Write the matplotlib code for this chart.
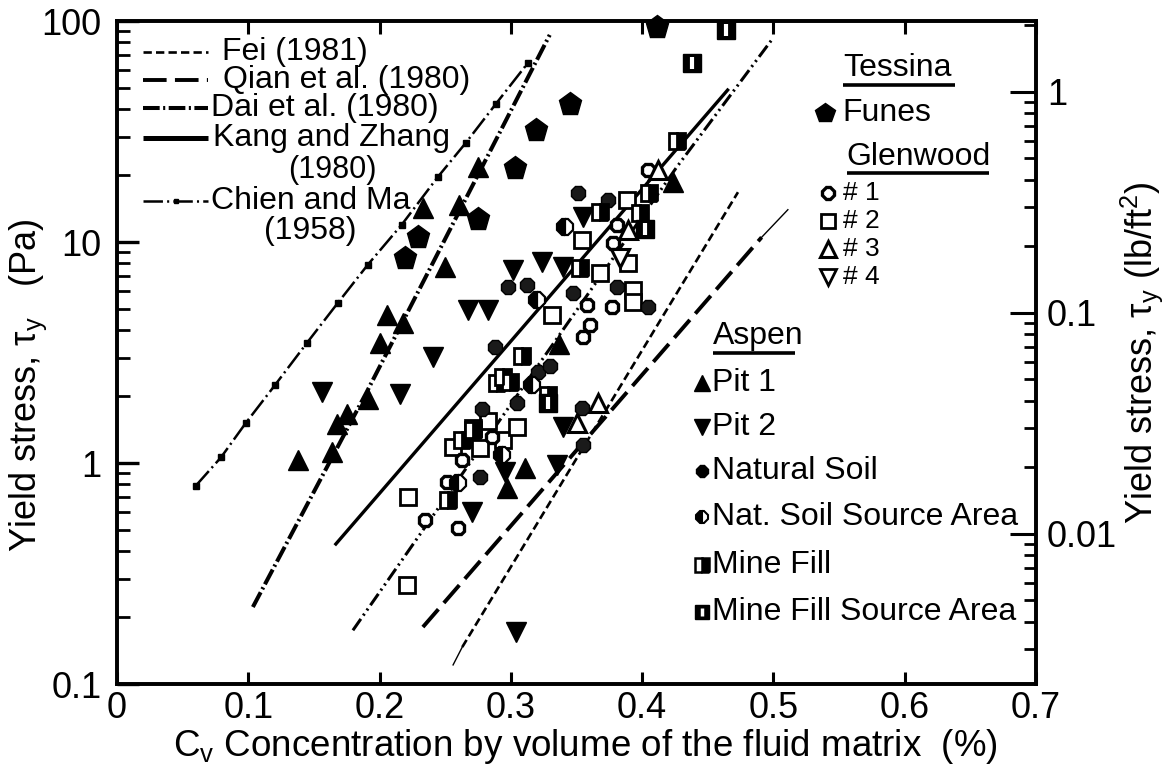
import matplotlib
matplotlib.use("Agg")
import matplotlib.pyplot as plt

plt.rcParams["font.family"] = ["Liberation Sans", "DejaVu Sans"]
plt.rcParams["mathtext.fontset"] = "custom"
plt.rcParams["mathtext.rm"] = "Liberation Sans"
plt.rcParams["mathtext.it"] = "Liberation Sans:italic"
plt.rcParams["mathtext.sf"] = "Liberation Sans"
plt.rcParams["lines.scale_dashes"] = False

PA_TO_PSF = 0.0208854  # 1 Pa in lb/ft^2

# ---- empirical relations: Cv (fraction) vs yield stress (Pa) ----
fei_cv = [0.256, 0.263, 0.473]
fei_tau = [0.122, 0.147, 16.8]

qian_cv = [0.233, 0.491, 0.511]
qian_tau = [0.181, 10.5, 14.0]

dai1_cv = [0.1035, 0.1903, 0.3296]
dai1_tau = [0.223, 2.1, 86.5]

dai2_cv = [0.1797, 0.4263, 0.4986]
dai2_tau = [0.175, 21.8, 82.0]

kang_cv = [0.1667, 0.4651]
kang_tau = [0.43, 48.7]

chien_cv = [0.0601, 0.0792, 0.0982, 0.1203, 0.1446, 0.1682, 0.1911, 0.2170,
            0.2444, 0.2657, 0.2885, 0.3129]
chien_tau = [0.79, 1.06, 1.52, 2.25, 3.49, 5.3, 7.9, 12.0, 19.7, 28.1, 42.1, 64.5]

# ---- measured samples ----
funes_cv = [0.2192, 0.2291, 0.2748, 0.3030, 0.3190, 0.3449, 0.4111]
funes_tau = [8.5, 10.5, 12.7, 21.6, 32.1, 42.1, 94.0]

glen1_cv = [0.2345, 0.2596, 0.2512, 0.2626, 0.2854, 0.360, 0.3547, 0.3767,
            0.3577, 0.3775, 0.4041, 0.3805]
glen1_tau = [0.552, 0.508, 0.82, 1.03, 1.31, 4.21, 3.72, 5.08, 5.19, 9.9, 21.2, 11.9]

glen2_cv = [0.2215, 0.2207, 0.2763, 0.2823, 0.2937, 0.3044, 0.331, 0.3539,
            0.3881, 0.3927, 0.3927, 0.3889, 0.3676, 0.2557, 0.2709]
glen2_tau = [0.70, 0.28, 1.17, 1.55, 1.27, 1.46, 4.68, 10.2, 15.5, 6.07, 5.36,
             8.03, 7.24, 1.18, 1.44]

glen3_cv = [0.3502, 0.3662, 0.4118, 0.389]
glen3_tau = [1.52, 1.87, 21.2, 11.3]

glen4_cv = [0.3829]
glen4_tau = [8.5]

pit1_cv = [0.1378, 0.1637, 0.1675, 0.1751, 0.1911, 0.2002, 0.2055, 0.2177,
           0.2329, 0.2497, 0.2604, 0.2748, 0.3365, 0.4233, 0.3106, 0.2969]
pit1_tau = [1.03, 1.12, 1.50, 1.67, 1.95, 3.49, 4.68, 4.30, 14.3, 7.7, 14.7,
            21.8, 3.45, 18.7, 0.95, 0.77]

pit2_cv = [0.1561, 0.2154, 0.2406, 0.2672, 0.2824, 0.3015, 0.3235, 0.3395,
           0.3547, 0.2702, 0.2954, 0.3395, 0.3350, 0.3037]
pit2_tau = [2.09, 2.05, 3.02, 4.92, 4.92, 7.46, 8.13, 7.7, 13.0, 0.60, 0.91,
            1.46, 0.98, 0.172]

nat_cv = [0.2763, 0.2778, 0.3044, 0.2877, 0.2976, 0.312, 0.3508, 0.347,
          0.3204, 0.3295, 0.3547, 0.3539, 0.3737, 0.3805, 0.4041]
nat_tau = [0.865, 1.75, 1.87, 3.35, 6.25, 6.38, 16.7, 5.88, 2.58, 2.75, 1.21,
           1.77, 15.5, 6.25, 5.08]

natsrc_cv = [0.2596, 0.293, 0.3197, 0.3409, 0.3159]
natsrc_tau = [0.81, 1.09, 5.47, 11.7, 2.25]

mine_cv = [0.2519, 0.2626, 0.2892, 0.2991, 0.3082, 0.328, 0.3524, 0.3676,
           0.398, 0.4056, 0.4262, 0.2937, 0.2709]
mine_tau = [0.68, 1.27, 2.30, 2.33, 3.05, 2.03, 7.62, 13.7, 13.5, 16.7, 28.6,
            2.45, 1.41]

minesrc_cv = [0.4383, 0.4642, 0.328, 0.4018]
minesrc_tau = [64.5, 91.0, 1.87, 11.5]

x_ticks = [0, 0.1, 0.2, 0.3, 0.4, 0.5, 0.6, 0.7]
x_ticklabels = ["0", "0.1", "0.2", "0.3", "0.4", "0.5", "0.6", "0.7"]
y_ticks = [0.1, 1, 10, 100]
y_ticklabels = ["0.1", "1", "10", "100"]
y2_ticks = [0.01, 0.1, 1]
y2_ticklabels = ["0.01", "0.1", "1"]

legend_lines = ["Fei (1981)", "Qian et al. (1980)", "Dai et al. (1980)",
                "Kang and Zhang", "Chien and Ma"]

# ---- figure ----
fig = plt.figure(figsize=(11.73, 7.71), dpi=100)
ax = fig.add_axes([0.09974, 0.11284, 0.78346, 0.85992])
ax.set_xscale("linear")
ax.set_yscale("log")
ax.set_xlim(0, 0.7)
ax.set_ylim(0.1, 100)

K = "black"
# line styles
sty_fei = dict(color=K, lw=1.9, dashes=(6, 3))
sty_qian = dict(color=K, lw=2.8, dashes=(17, 6))
sty_dai1 = dict(color=K, lw=2.9, dashes=(12, 2.5, 1.5, 2.5))
sty_dai2 = dict(color=K, lw=2.2, dashes=(10, 3, 1.5, 3, 1.5, 3))
sty_kang = dict(color=K, lw=2.4, linestyle="-")
sty_chien = dict(color=K, lw=1.8, dashes=(14, 3, 1.5, 3))

ax.plot(fei_cv[:2], fei_tau[:2], color=K, lw=1.0)
ax.plot(fei_cv[1:], fei_tau[1:], **sty_fei)
ax.plot(qian_cv[:2], qian_tau[:2], **sty_qian)
ax.plot(qian_cv[1:], qian_tau[1:], color=K, lw=1.0)
ax.plot(dai1_cv, dai1_tau, **sty_dai1)
ax.plot(dai2_cv, dai2_tau, **sty_dai2)
ax.plot(kang_cv, kang_tau, **sty_kang)
ax.plot(chien_cv, chien_tau, **sty_chien)
ax.plot(chien_cv, chien_tau, ls="none", marker="s", ms=5, color=K)

# sample markers
ax.plot(funes_cv, funes_tau, ls="none", marker="p", ms=17, color=K, clip_on=False, zorder=4)
ax.plot(pit1_cv, pit1_tau, ls="none", marker="^", ms=14, color=K, zorder=4)
ax.plot(pit2_cv, pit2_tau, ls="none", marker="v", ms=14, color=K, zorder=4)
ax.plot(glen2_cv, glen2_tau, ls="none", marker="s", ms=12, mfc="white", mec=K, mew=2.0, zorder=4)
ax.plot(glen1_cv, glen1_tau, ls="none", marker="8", ms=10, mfc="white", mec=K, mew=2.4, zorder=5)
ax.plot(glen3_cv, glen3_tau, ls="none", marker="^", ms=13, mfc="white", mec=K, mew=2.2, zorder=5)
ax.plot(glen4_cv, glen4_tau, ls="none", marker="v", ms=13, mfc="white", mec=K, mew=2.2, zorder=5)
ax.plot(nat_cv, nat_tau, ls="none", marker="8", ms=11, color="#1a1a1a", mec=K, zorder=5)
ax.plot(natsrc_cv, natsrc_tau, ls="none", marker="8", ms=11, fillstyle="left",
        color=K, markerfacecoloralt="white", mec=K, mew=1.6, zorder=5)
ax.plot(mine_cv, mine_tau, ls="none", marker="s", ms=12, fillstyle="right",
        color=K, markerfacecoloralt="white", mec=K, mew=2.0, zorder=5)
ax.plot(minesrc_cv, minesrc_tau, ls="none", marker="s", ms=13, color=K, clip_on=False, zorder=5)
ax.plot(minesrc_cv, minesrc_tau, ls="none", marker="|", ms=8, mew=3, color="white",
        clip_on=False, zorder=6)

# ---- axes styling ----
for s in ax.spines.values():
    s.set_linewidth(2.6)
ax.set_xticks(x_ticks)
ax.set_xticklabels(x_ticklabels)
ax.set_yticks(y_ticks)
ax.set_yticklabels(y_ticklabels)
ax.tick_params(axis="x", which="major", direction="in", length=9, width=2.2,
               top=True, bottom=True, labelsize=26, pad=5)
ax.tick_params(axis="x", which="minor", bottom=False, top=False)
ax.tick_params(axis="y", which="major", direction="in", length=16, width=2.4,
               left=True, right=False, labelsize=26, pad=11)
ax.tick_params(axis="y", which="minor", direction="in", length=9, width=2.0,
               left=True, right=False, labelleft=False)

ax2 = ax.twinx()
ax2.set_yscale("log")
ax2.set_ylim(0.1 * PA_TO_PSF, 100 * PA_TO_PSF)
ax2.set_yticks(y2_ticks)
ax2.set_yticklabels(y2_ticklabels)
ax2.tick_params(axis="y", which="major", direction="in", length=19, width=2.2,
                labelsize=26, pad=8)
ax2.tick_params(axis="y", which="minor", direction="in", length=9, width=2.0,
                labelright=False)
for s in ax2.spines.values():
    s.set_linewidth(2.6)

# axis titles
ax.text(0.51, -0.094, r"C$_\mathrm{v}$ Concentration by volume of the fluid matrix  (%)",
        transform=ax.transAxes, ha="center", va="center", fontsize=26.5)
ax.text(-0.097, 0.45, r"Yield stress, $\mathrm{\tau}_\mathrm{y}$   (Pa)",
        transform=ax.transAxes, ha="center", va="center", rotation=90, fontsize=26)
ax.text(1.115, 0.50, r"Yield stress, $\mathrm{\tau}_\mathrm{y}$ (lb/ft$^\mathrm{2}$)",
        transform=ax.transAxes, ha="center", va="center", rotation=90, fontsize=26)

T = ax.transAxes
# ---- key for relations (upper left) ----
rows = [0.953, 0.911, 0.869, 0.824, 0.7285]
text_x = [0.114, 0.115, 0.102, 0.1045, 0.102]
styles = [sty_fei, sty_qian, sty_dai1, dict(color=K, lw=3.6), sty_chien]
for lab, yy, tx, st in zip(legend_lines, rows, text_x, styles):
    ax.plot([0.0283, 0.099], [yy, yy], transform=T, clip_on=False,
            solid_capstyle="butt", **st)
    ax.text(tx, yy, lab, transform=T, ha="left", va="center", fontsize=23)
ax.plot([0.0283 + 0.0355], [rows[4]], transform=T, marker="s", ms=3.5, color=K)
ax.text(0.234, 0.776, "(1980)", transform=T, ha="center", va="center", fontsize=22)
ax.text(0.21, 0.684, "(1958)", transform=T, ha="center", va="center", fontsize=23)

# ---- key for samples (right) ----
def heading(x0, x1, y, text):
    ax.text(x0, y, text, transform=T, ha="left", va="center", fontsize=23)
    ax.plot([x0, x1], [y - 0.025, y - 0.025], transform=T, color=K, lw=2.6,
            solid_capstyle="butt")

heading(0.790, 0.912, 0.929, "Tessina")
ax.plot([0.7704], [0.861], transform=T, marker="p", ms=15, color=K)
ax.text(0.789, 0.861, "Funes", transform=T, ha="left", va="center", fontsize=23)

heading(0.794, 0.949, 0.795, "Glenwood")
glen_keys = [
    ("# 1", 0.7406, dict(marker="8", ms=9, mfc="white", mec=K, mew=2.4)),
    ("# 2", 0.698, dict(marker="s", ms=10, mfc="white", mec=K, mew=2.0)),
    ("# 3", 0.656, dict(marker="^", ms=12, mfc="white", mec=K, mew=2.2)),
    ("# 4", 0.614, dict(marker="v", ms=11, mfc="white", mec=K, mew=2.0)),
]
for lab, yy, mk in glen_keys:
    ax.plot([0.7737], [yy], transform=T, ls="none", **mk)
    ax.text(0.79, yy, lab, transform=T, ha="left", va="center", fontsize=19)

heading(0.6485, 0.7378, 0.525, "Aspen")
aspen_keys = [
    ("Pit 1", 0.454, dict(marker="^", ms=12, color=K)),
    ("Pit 2", 0.3876, dict(marker="v", ms=12, color=K)),
    ("Natural Soil", 0.3213, dict(marker="8", ms=9, color=K)),
    ("Nat. Soil Source Area", 0.2519, dict(marker="8", ms=9, fillstyle="left", color=K,
                                           markerfacecoloralt="white", mew=1.5)),
    ("Mine Fill", 0.1795, dict(marker="s", ms=10, fillstyle="right", color=K,
                               markerfacecoloralt="white", mew=1.8)),
    ("Mine Fill Source Area", 0.1086, dict(marker="s", ms=10, color=K)),
]
for lab, yy, mk in aspen_keys:
    ax.plot([0.6366], [yy], transform=T, ls="none", **mk)
    ax.text(0.6474, yy, lab, transform=T, ha="left", va="center", fontsize=23)
ax.plot([0.6366], [0.1086], transform=T, ls="none", marker="|", ms=6, mew=2.5, color="white")

fig.savefig("out.png", dpi=100)
